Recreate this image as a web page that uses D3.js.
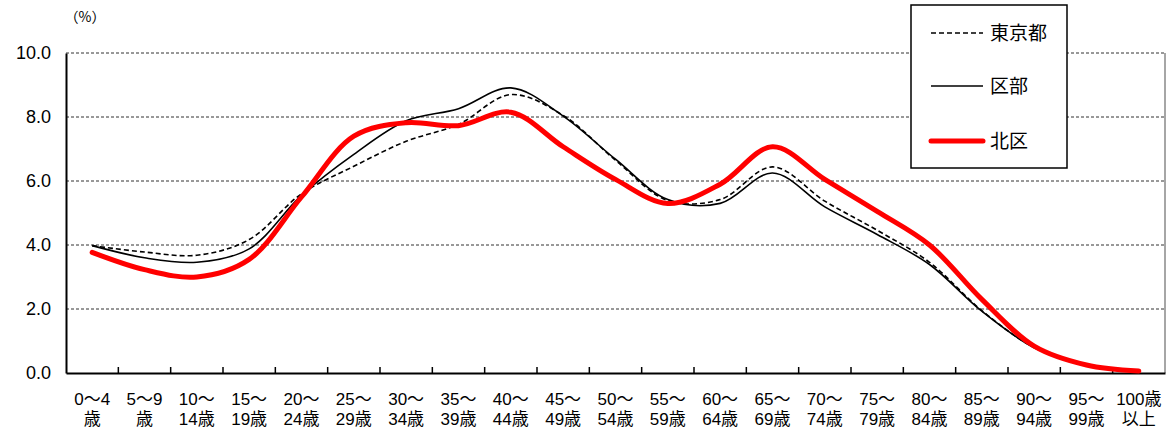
<!DOCTYPE html>
<html><head><meta charset="utf-8">
<script src="https://cdn.jsdelivr.net/npm/d3@7"></script>
<style>
html,body{margin:0;padding:0;background:#fff;}
svg{display:block;font-family:"Noto Sans CJK JP","Noto Sans",sans-serif;}
</style></head>
<body><svg id="c" width="1173" height="441"></svg>
<script>
const categories = ["0～4|歳","5～9|歳","10～|14歳","15～|19歳","20～|24歳","25～|29歳","30～|34歳","35～|39歳","40～|44歳","45～|49歳","50～|54歳","55～|59歳","60～|64歳","65～|69歳","70～|74歳","75～|79歳","80～|84歳","85～|89歳","90～|94歳","95～|99歳","100歳|以上"];
const tokyo  = [3.98,3.78,3.68,4.17,5.6,6.46,7.24,7.77,8.7,8.05,6.65,5.39,5.42,6.44,5.37,4.46,3.46,1.95,0.8,0.24,0.05];
const kubu   = [3.98,3.6,3.46,3.88,5.55,6.83,7.88,8.26,8.91,8.03,6.68,5.42,5.3,6.25,5.19,4.33,3.39,1.93,0.79,0.24,0.05];
const kita   = [3.77,3.23,3.0,3.55,5.5,7.4,7.82,7.73,8.15,7.07,6.05,5.3,5.9,7.07,6.05,5.05,4.0,2.3,0.84,0.25,0.06];
const yTicks = [0,2,4,6,8,10];
const seriesNames = ["東京都","区部","北区"];

(function(){
const svg = d3.select("#c");
const pL = 66, pR = 1165, pT = 53, pB = 373;
const x = d3.scaleBand().domain(categories).range([pL, pR]).padding(0);
const y = d3.scaleLinear().domain([0,10]).range([pB, pT]);
const cx = d => x(d) + x.bandwidth()/2;
const labFont = "\"Liberation Sans\",\"Noto Sans CJK JP\",sans-serif";

// gridlines
svg.append("g").selectAll("line").data(yTicks.filter(t=>t>0)).join("line")
  .attr("x1", pL).attr("x2", pR).attr("y1", d=>y(d)).attr("y2", d=>y(d))
  .attr("stroke","#333").attr("stroke-width",1).attr("stroke-dasharray","3,2");
// right border
svg.append("line").attr("x1",pR).attr("x2",pR).attr("y1",pT).attr("y2",pB)
  .attr("stroke","#888").attr("stroke-width",1.5);

// y axis
const yAxis = d3.axisLeft(y).tickValues(yTicks).tickFormat(d3.format(".1f")).tickSize(0).tickPadding(15);
const gy = svg.append("g").attr("transform",`translate(${pL},0)`).call(yAxis);
gy.select(".domain").attr("stroke","#000").attr("stroke-width",2);
gy.selectAll("text").attr("font-size",18).attr("fill","#000").attr("font-family",labFont);

// x axis
const xAxis = d3.axisBottom(x).tickSize(0).tickFormat("");
const gx = svg.append("g").attr("transform",`translate(0,${pB})`).call(xAxis);
gx.select(".domain").attr("stroke","#000").attr("stroke-width",2);
gx.selectAll(".tick").remove();
// tick marks at band boundaries
svg.append("g").selectAll("line").data(categories.slice(1)).join("line")
  .attr("x1", d=>x(d)).attr("x2", d=>x(d)).attr("y1", pB).attr("y2", pB-6)
  .attr("stroke","#000").attr("stroke-width",1.5);
// labels (two rows)
const g1 = svg.append("g").attr("font-family",labFont).attr("font-size",17).attr("fill","#000").attr("text-anchor","middle");
g1.selectAll("text.r1").data(categories).join("text").attr("class","r1")
  .attr("x", d=>cx(d)).attr("y",405).text(d=>d.split("|")[0]);
g1.selectAll("text.r2").data(categories).join("text").attr("class","r2")
  .attr("x", d=>cx(d)).attr("y",425).text(d=>d.split("|")[1]);

// unit label
svg.append("text").attr("x",85).attr("y",22).attr("text-anchor","middle")
  .attr("font-size",14).text("（%）");

// lines
const line = d3.line().x((d,i)=>cx(categories[i])).y(d=>y(d)).curve(d3.curveCatmullRom.alpha(0.5));
svg.append("path").datum(tokyo).attr("d",line).attr("fill","none")
  .attr("stroke","#000").attr("stroke-width",1.6).attr("stroke-dasharray","5,3");
svg.append("path").datum(kubu).attr("d",line).attr("fill","none")
  .attr("stroke","#000").attr("stroke-width",1.6);
svg.append("path").datum(kita).attr("d",line).attr("fill","none")
  .attr("stroke","#ff0000").attr("stroke-width",5).attr("stroke-linecap","round");

// legend
const lg = svg.append("g");
lg.append("rect").attr("x",911).attr("y",5).attr("width",156).attr("height",163)
  .attr("fill","#fff").attr("stroke","#000").attr("stroke-width",1.5);
const lys = [33,86,141];
const styles = [
  {stroke:"#000", w:1.6, dash:"5,3"},
  {stroke:"#000", w:1.6, dash:null},
  {stroke:"#ff0000", w:5, dash:null}
];
seriesNames.forEach((n,i)=>{
  const s = styles[i];
  const l = lg.append("line").attr("x1",931).attr("x2",983).attr("y1",lys[i]).attr("y2",lys[i])
    .attr("stroke",s.stroke).attr("stroke-width",s.w).attr("stroke-linecap", i==2?"round":"butt");
  if (s.dash) l.attr("stroke-dasharray",s.dash);
  lg.append("text").attr("x",990).attr("y",lys[i]+7).attr("font-size",19).attr("fill","#000").text(n);
});
})();
</script></body></html>
